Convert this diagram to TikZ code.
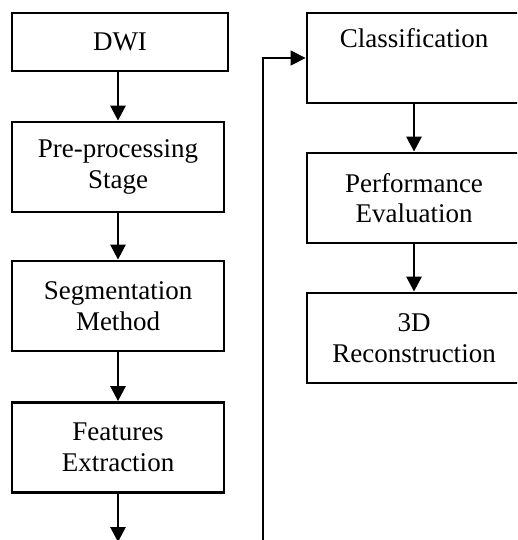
\documentclass[tikz,border=0pt]{standalone}
\usepackage{fontspec}
\setmainfont{Liberation Serif}
\usetikzlibrary{arrows.meta}
\tikzset{
  stepbox/.style={draw, line width=2.8pt, rectangle, align=center, inner sep=0pt,
    minimum height=90pt, font=\fontsize{27}{30.5}\selectfont},
  leftbox/.style={stepbox, minimum width=212pt},
  rightbox/.style={stepbox, minimum width=214pt},
  flow/.style={line width=2.8pt, -{Triangle[width=15pt,length=15pt]}},
  back/.style={line width=1.4pt, -{Triangle[width=15pt,length=15pt]}}
}
\begin{document}
\begin{tikzpicture}[x=1pt,y=-1pt]
\useasboundingbox (0,0) rectangle (517,540);
\clip (0,0) rectangle (517,540);
% left column
\node[stepbox, minimum width=216pt, minimum height=58pt] (dwi) at (120,42) {DWI};
\node[leftbox] (pre) at (118,167) {Pre-processing\\Stage};
\node[leftbox] (seg) at (118,306) {Segmentation\\Method};
\node[leftbox] (fea) at (118,447.5) {Features\\Extraction};
\coordinate (out) at (118,542);
% right column
\node[rightbox] (cls) at (414,58) {Classification\\\strut};
\node[rightbox] (perf) at (414,198) {Performance\\Evaluation};
\node[rightbox] (rec) at (414,338) {3D\\Reconstruction};
\coordinate (loop) at (263,545);
% connectors
\draw[flow] (dwi.south -| pre.north) -- (pre.north);
\draw[flow] (pre) -- (seg);
\draw[flow] (seg) -- (fea);
\draw[flow] (fea) -- (out);
\draw[flow] (cls.south -| rec) -- (perf.north -| rec);
\draw[flow] (perf.south -| rec) -- (rec.north);
\draw[back] (loop) |- (cls.west);
\end{tikzpicture}
\end{document}
